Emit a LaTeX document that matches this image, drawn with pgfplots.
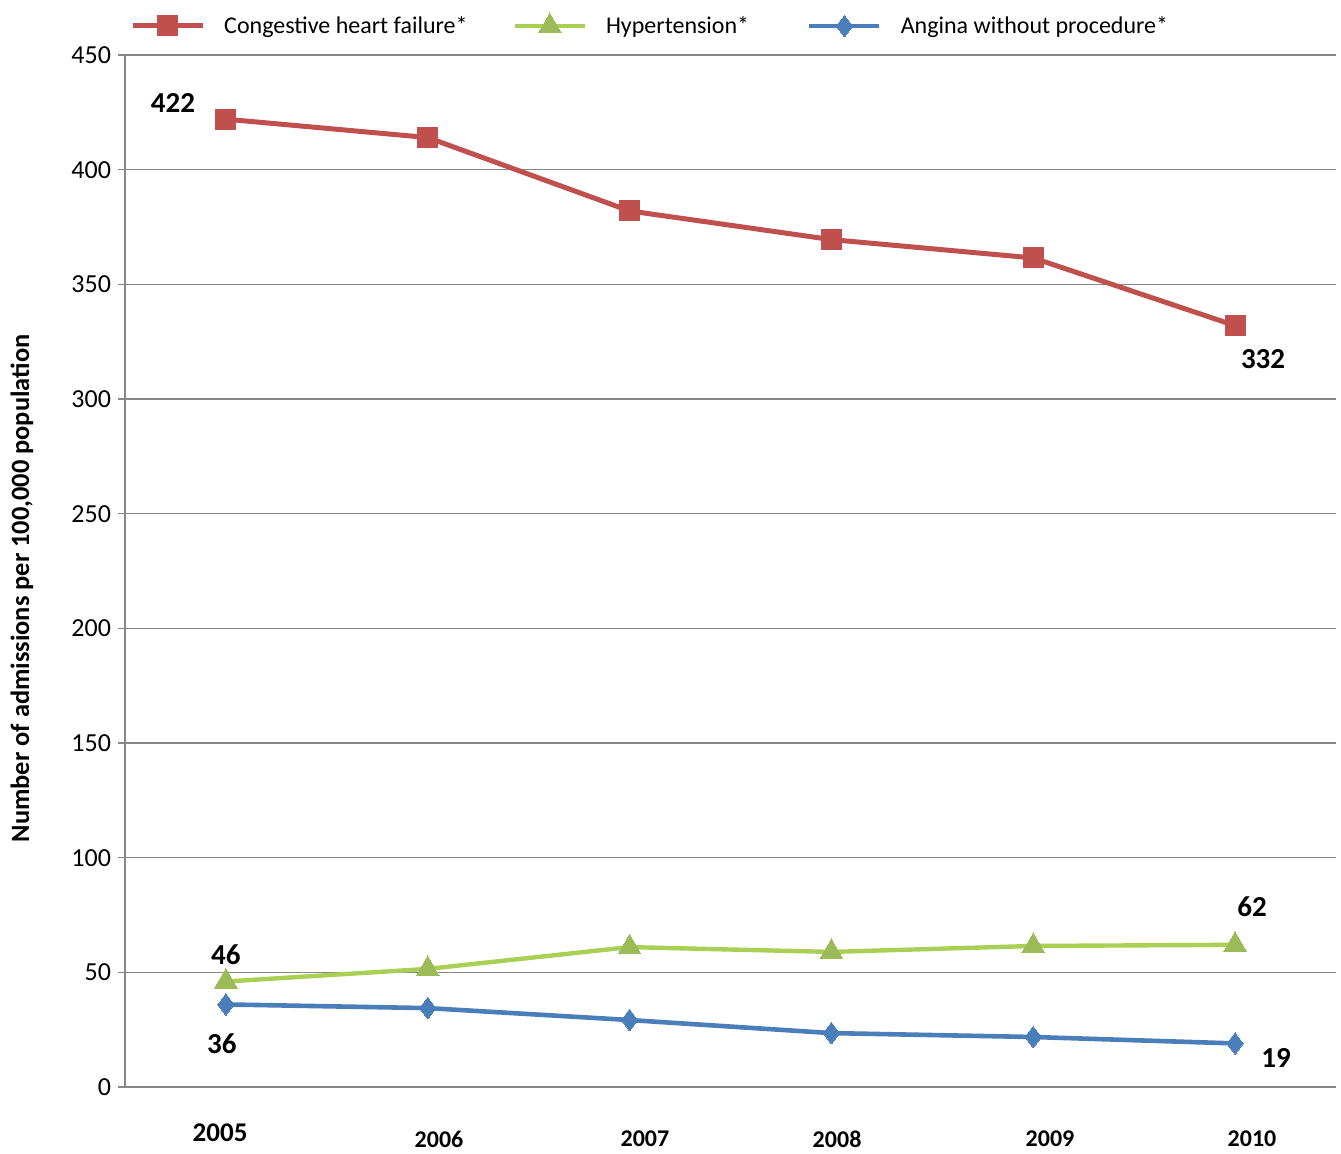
\documentclass[border=0pt]{standalone}
\usepackage{fontspec}
\setmainfont{Carlito}
\usepackage{pgfplots}
\pgfplotsset{compat=1.18}

\definecolor{chfred}{HTML}{C0504D}
\definecolor{hypline}{HTML}{A9CF54}
\definecolor{hypmark}{HTML}{9BBB59}
\definecolor{angblue}{HTML}{4A7EBB}
\definecolor{gridgray}{HTML}{878787}

\pgfplotstableread{
x chf hyp ang
0 422 46 36
1 414 51.5 34.4
2 382 61 29.2
3 369.5 58.9 23.5
4 361.5 61.5 21.8
5 332 62 19
}\admissions

\begin{document}
\begin{tikzpicture}
\begin{axis}[
  scale only axis,
  width=605.5pt, height=516pt,
  xmin=-0.5, xmax=5.5,
  ymin=0, ymax=450,
  ytick={0,50,...,450},
  axis x line*=bottom,
  axis y line*=left,
  axis line style={gridgray, line width=0.75pt, -},
  ymajorgrids,
  grid style={gridgray, line width=0.75pt},
  ytick style={gridgray, line width=0.75pt},
  tick align=outside,
  major tick length=3.5pt,
  /pgf/number format/assume math mode=true,
  yticklabel style={font=\fontsize{13}{15}\selectfont},
  xtick={1.056,2.076,3.028,4.083,5.084},
  xticklabels={2006,2007,2008,2009,2010},
  xtick style={draw=none},
  xticklabel style={font=\bfseries\fontsize{12}{14}\selectfont, anchor=center, inner sep=0pt, yshift=-22.5pt},
  extra x ticks={-0.029},
  extra x tick labels={2005},
  extra x tick style={xticklabel style={font=\bfseries\fontsize{13.5}{15}\selectfont, yshift=3pt}},
  ylabel={Number of admissions per 100,000 population},
  ylabel style={at={(rel axis cs:0,0.483)}, anchor=center, yshift=51.5pt, font=\bfseries\fontsize{13.2}{15}\selectfont},
  legend columns=3,
  legend cell align=left,
  legend style={at={(rel axis cs:0.004,1)}, anchor=west, yshift=14.5pt,
    draw=none, fill=none, inner sep=0pt, font=\fontsize{12}{14}\selectfont,
    /tikz/every odd column/.append style={column sep=7.5pt},
    /tikz/column 2/.style={column sep=20.5pt},
    /tikz/column 4/.style={column sep=27pt},
    /tikz/column 5/.style={column sep=10.5pt}},
  legend image code/.code={\draw[mark repeat=2,mark phase=2] plot coordinates {(0pt,0pt) (17.5pt,0pt) (35pt,0pt)};},
  clip=false,
]
\addplot[chfred, line width=2.5pt, mark=square*, mark size=5pt, mark options={solid, fill=chfred, draw=chfred, line width=0pt}]
  table[x=x, y=chf] {\admissions};
\addlegendentry{Congestive heart failure*}
\addplot[hypline, line width=2.2pt, mark=triangle*, mark size=6.5pt, mark options={solid, fill=hypmark, draw=hypmark, line width=0pt}]
  table[x=x, y=hyp] {\admissions};
\addlegendentry{Hypertension*}
\addplot[angblue, line width=2.3pt, mark=diamond*, mark size=5.4pt, mark options={solid, fill=angblue, draw=angblue, line width=0pt}]
  table[x=x, y=ang] {\admissions};
\addlegendentry{Angina without procedure*}

\begin{scope}[every node/.style={font=\bfseries\fontsize{14.5}{16}\selectfont}]
\node[xshift=-26.5pt, yshift=8pt] at (axis cs:0,422) {422};
\node[xshift=14pt, yshift=-16.5pt] at (axis cs:5,332) {332};
\node[yshift=13.5pt] at (axis cs:0,46) {46};
\node[xshift=8.5pt, yshift=19pt] at (axis cs:5,62) {62};
\node[xshift=-2pt, yshift=-19.5pt] at (axis cs:0,36) {36};
\node[xshift=20.5pt, yshift=-7.5pt] at (axis cs:5,19) {19};
\end{scope}

\coordinate (plotsw) at (rel axis cs:0,0);
\coordinate (plotne) at (rel axis cs:1,1);
\end{axis}
\pgfresetboundingbox
\path[use as bounding box] ([xshift=-62.5pt,yshift=-33.5pt]plotsw) rectangle ([xshift=2.5pt,yshift=27.5pt]plotne);
\end{tikzpicture}
\end{document}
